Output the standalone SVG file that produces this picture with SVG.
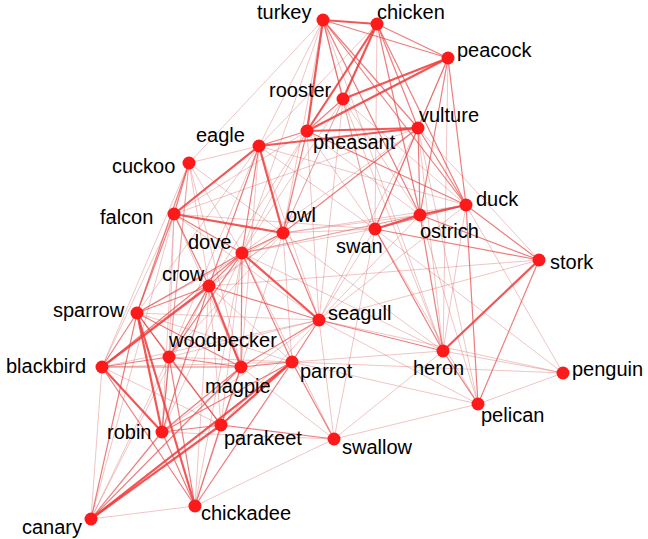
<svg xmlns="http://www.w3.org/2000/svg" width="648" height="539" viewBox="0 0 648 539">
<style>
.s{stroke:#ee3a3a;stroke-width:2.2;stroke-opacity:.85}
.m{stroke:#e64545;stroke-width:1.2;stroke-opacity:.7}
.f{stroke:#d45a5a;stroke-width:.8;stroke-opacity:.45}
.n circle{fill:#fe1a1a}
.n text{font-family:"Liberation Sans",Arial,sans-serif;font-size:20px;fill:#000}
</style>
<rect width="648" height="539" fill="#fff"/>
<g id="edges" fill="none">
<line class="s" x1="323" y1="20" x2="377" y2="24"/>
<line class="m" x1="323" y1="20" x2="448" y2="58"/>
<line class="s" x1="323" y1="20" x2="307" y2="131"/>
<line class="m" x1="323" y1="20" x2="343" y2="99"/>
<line class="m" x1="323" y1="20" x2="418" y2="128"/>
<line class="m" x1="323" y1="20" x2="420" y2="215"/>
<line class="m" x1="323" y1="20" x2="466" y2="205"/>
<line class="f" x1="323" y1="20" x2="375" y2="229"/>
<line class="f" x1="323" y1="20" x2="283" y2="233"/>
<line class="f" x1="323" y1="20" x2="242" y2="253"/>
<line class="f" x1="323" y1="20" x2="189" y2="163"/>
<line class="f" x1="323" y1="20" x2="259" y2="146"/>
<line class="f" x1="323" y1="20" x2="443" y2="351"/>
<line class="s" x1="377" y1="24" x2="343" y2="99"/>
<line class="s" x1="377" y1="24" x2="307" y2="131"/>
<line class="m" x1="377" y1="24" x2="448" y2="58"/>
<line class="m" x1="377" y1="24" x2="418" y2="128"/>
<line class="m" x1="377" y1="24" x2="466" y2="205"/>
<line class="m" x1="377" y1="24" x2="420" y2="215"/>
<line class="f" x1="377" y1="24" x2="375" y2="229"/>
<line class="f" x1="377" y1="24" x2="259" y2="146"/>
<line class="f" x1="377" y1="24" x2="283" y2="233"/>
<line class="s" x1="448" y1="58" x2="343" y2="99"/>
<line class="s" x1="448" y1="58" x2="307" y2="131"/>
<line class="m" x1="448" y1="58" x2="418" y2="128"/>
<line class="m" x1="448" y1="58" x2="466" y2="205"/>
<line class="m" x1="448" y1="58" x2="420" y2="215"/>
<line class="f" x1="448" y1="58" x2="375" y2="229"/>
<line class="f" x1="448" y1="58" x2="443" y2="351"/>
<line class="m" x1="343" y1="99" x2="307" y2="131"/>
<line class="f" x1="343" y1="99" x2="420" y2="215"/>
<line class="f" x1="343" y1="99" x2="466" y2="205"/>
<line class="f" x1="343" y1="99" x2="375" y2="229"/>
<line class="f" x1="343" y1="99" x2="283" y2="233"/>
<line class="f" x1="343" y1="99" x2="242" y2="253"/>
<line class="f" x1="343" y1="99" x2="319" y2="320"/>
<line class="f" x1="343" y1="99" x2="443" y2="351"/>
<line class="s" x1="307" y1="131" x2="418" y2="128"/>
<line class="m" x1="307" y1="131" x2="259" y2="146"/>
<line class="m" x1="307" y1="131" x2="283" y2="233"/>
<line class="f" x1="307" y1="131" x2="242" y2="253"/>
<line class="f" x1="307" y1="131" x2="174" y2="214"/>
<line class="f" x1="307" y1="131" x2="375" y2="229"/>
<line class="f" x1="307" y1="131" x2="420" y2="215"/>
<line class="m" x1="307" y1="131" x2="466" y2="205"/>
<line class="f" x1="307" y1="131" x2="209" y2="286"/>
<line class="f" x1="307" y1="131" x2="319" y2="320"/>
<line class="s" x1="418" y1="128" x2="259" y2="146"/>
<line class="m" x1="418" y1="128" x2="466" y2="205"/>
<line class="m" x1="418" y1="128" x2="420" y2="215"/>
<line class="m" x1="418" y1="128" x2="375" y2="229"/>
<line class="m" x1="418" y1="128" x2="283" y2="233"/>
<line class="f" x1="418" y1="128" x2="443" y2="351"/>
<line class="f" x1="418" y1="128" x2="539" y2="260"/>
<line class="f" x1="418" y1="128" x2="319" y2="320"/>
<line class="f" x1="418" y1="128" x2="478" y2="404"/>
<line class="f" x1="418" y1="128" x2="174" y2="214"/>
<line class="f" x1="418" y1="128" x2="242" y2="253"/>
<line class="s" x1="259" y1="146" x2="174" y2="214"/>
<line class="f" x1="259" y1="146" x2="189" y2="163"/>
<line class="s" x1="259" y1="146" x2="283" y2="233"/>
<line class="m" x1="259" y1="146" x2="242" y2="253"/>
<line class="m" x1="259" y1="146" x2="209" y2="286"/>
<line class="f" x1="259" y1="146" x2="137" y2="313"/>
<line class="f" x1="259" y1="146" x2="319" y2="320"/>
<line class="f" x1="259" y1="146" x2="375" y2="229"/>
<line class="f" x1="259" y1="146" x2="466" y2="205"/>
<line class="f" x1="259" y1="146" x2="169" y2="357"/>
<line class="f" x1="259" y1="146" x2="241" y2="367"/>
<line class="m" x1="189" y1="163" x2="174" y2="214"/>
<line class="m" x1="189" y1="163" x2="137" y2="313"/>
<line class="f" x1="189" y1="163" x2="209" y2="286"/>
<line class="f" x1="189" y1="163" x2="242" y2="253"/>
<line class="f" x1="189" y1="163" x2="169" y2="357"/>
<line class="f" x1="189" y1="163" x2="102" y2="367"/>
<line class="f" x1="189" y1="163" x2="162" y2="432"/>
<line class="f" x1="189" y1="163" x2="283" y2="233"/>
<line class="f" x1="189" y1="163" x2="241" y2="367"/>
<line class="s" x1="174" y1="214" x2="283" y2="233"/>
<line class="m" x1="174" y1="214" x2="137" y2="313"/>
<line class="f" x1="174" y1="214" x2="102" y2="367"/>
<line class="m" x1="174" y1="214" x2="209" y2="286"/>
<line class="m" x1="174" y1="214" x2="242" y2="253"/>
<line class="f" x1="174" y1="214" x2="241" y2="367"/>
<line class="f" x1="174" y1="214" x2="162" y2="432"/>
<line class="f" x1="174" y1="214" x2="169" y2="357"/>
<line class="f" x1="174" y1="214" x2="319" y2="320"/>
<line class="f" x1="174" y1="214" x2="375" y2="229"/>
<line class="f" x1="174" y1="214" x2="91" y2="519"/>
<line class="m" x1="283" y1="233" x2="242" y2="253"/>
<line class="f" x1="283" y1="233" x2="209" y2="286"/>
<line class="f" x1="283" y1="233" x2="375" y2="229"/>
<line class="m" x1="283" y1="233" x2="319" y2="320"/>
<line class="f" x1="283" y1="233" x2="137" y2="313"/>
<line class="f" x1="283" y1="233" x2="169" y2="357"/>
<line class="f" x1="283" y1="233" x2="241" y2="367"/>
<line class="f" x1="283" y1="233" x2="292" y2="362"/>
<line class="f" x1="283" y1="233" x2="420" y2="215"/>
<line class="f" x1="283" y1="233" x2="102" y2="367"/>
<line class="f" x1="283" y1="233" x2="443" y2="351"/>
<line class="m" x1="242" y1="253" x2="209" y2="286"/>
<line class="s" x1="242" y1="253" x2="319" y2="320"/>
<line class="m" x1="242" y1="253" x2="137" y2="313"/>
<line class="m" x1="242" y1="253" x2="102" y2="367"/>
<line class="m" x1="242" y1="253" x2="169" y2="357"/>
<line class="m" x1="242" y1="253" x2="241" y2="367"/>
<line class="m" x1="242" y1="253" x2="292" y2="362"/>
<line class="f" x1="242" y1="253" x2="162" y2="432"/>
<line class="f" x1="242" y1="253" x2="221" y2="425"/>
<line class="f" x1="242" y1="253" x2="375" y2="229"/>
<line class="f" x1="242" y1="253" x2="195" y2="506"/>
<line class="f" x1="242" y1="253" x2="420" y2="215"/>
<line class="f" x1="242" y1="253" x2="466" y2="205"/>
<line class="f" x1="242" y1="253" x2="443" y2="351"/>
<line class="f" x1="242" y1="253" x2="334" y2="439"/>
<line class="s" x1="209" y1="286" x2="241" y2="367"/>
<line class="m" x1="209" y1="286" x2="137" y2="313"/>
<line class="s" x1="209" y1="286" x2="102" y2="367"/>
<line class="m" x1="209" y1="286" x2="169" y2="357"/>
<line class="m" x1="209" y1="286" x2="162" y2="432"/>
<line class="f" x1="209" y1="286" x2="221" y2="425"/>
<line class="m" x1="209" y1="286" x2="319" y2="320"/>
<line class="f" x1="209" y1="286" x2="195" y2="506"/>
<line class="f" x1="209" y1="286" x2="292" y2="362"/>
<line class="f" x1="209" y1="286" x2="539" y2="260"/>
<line class="f" x1="209" y1="286" x2="91" y2="519"/>
<line class="s" x1="137" y1="313" x2="162" y2="432"/>
<line class="m" x1="137" y1="313" x2="102" y2="367"/>
<line class="s" x1="137" y1="313" x2="195" y2="506"/>
<line class="m" x1="137" y1="313" x2="169" y2="357"/>
<line class="m" x1="137" y1="313" x2="241" y2="367"/>
<line class="m" x1="137" y1="313" x2="221" y2="425"/>
<line class="m" x1="137" y1="313" x2="91" y2="519"/>
<line class="f" x1="137" y1="313" x2="319" y2="320"/>
<line class="f" x1="137" y1="313" x2="292" y2="362"/>
<line class="m" x1="319" y1="320" x2="443" y2="351"/>
<line class="f" x1="319" y1="320" x2="375" y2="229"/>
<line class="f" x1="319" y1="320" x2="478" y2="404"/>
<line class="m" x1="319" y1="320" x2="292" y2="362"/>
<line class="m" x1="319" y1="320" x2="241" y2="367"/>
<line class="f" x1="319" y1="320" x2="169" y2="357"/>
<line class="f" x1="319" y1="320" x2="102" y2="367"/>
<line class="f" x1="319" y1="320" x2="539" y2="260"/>
<line class="f" x1="319" y1="320" x2="334" y2="439"/>
<line class="f" x1="319" y1="320" x2="466" y2="205"/>
<line class="f" x1="319" y1="320" x2="563" y2="373"/>
<line class="f" x1="319" y1="320" x2="420" y2="215"/>
<line class="f" x1="319" y1="320" x2="162" y2="432"/>
<line class="f" x1="319" y1="320" x2="221" y2="425"/>
<line class="m" x1="169" y1="357" x2="102" y2="367"/>
<line class="m" x1="169" y1="357" x2="241" y2="367"/>
<line class="m" x1="169" y1="357" x2="162" y2="432"/>
<line class="m" x1="169" y1="357" x2="221" y2="425"/>
<line class="f" x1="169" y1="357" x2="292" y2="362"/>
<line class="m" x1="169" y1="357" x2="195" y2="506"/>
<line class="f" x1="169" y1="357" x2="91" y2="519"/>
<line class="m" x1="241" y1="367" x2="102" y2="367"/>
<line class="m" x1="241" y1="367" x2="162" y2="432"/>
<line class="m" x1="241" y1="367" x2="221" y2="425"/>
<line class="m" x1="241" y1="367" x2="292" y2="362"/>
<line class="f" x1="241" y1="367" x2="195" y2="506"/>
<line class="f" x1="241" y1="367" x2="334" y2="439"/>
<line class="m" x1="241" y1="367" x2="91" y2="519"/>
<line class="s" x1="292" y1="362" x2="221" y2="425"/>
<line class="s" x1="292" y1="362" x2="91" y2="519"/>
<line class="m" x1="292" y1="362" x2="162" y2="432"/>
<line class="m" x1="292" y1="362" x2="334" y2="439"/>
<line class="f" x1="292" y1="362" x2="443" y2="351"/>
<line class="f" x1="292" y1="362" x2="478" y2="404"/>
<line class="f" x1="292" y1="362" x2="102" y2="367"/>
<line class="m" x1="292" y1="362" x2="195" y2="506"/>
<line class="f" x1="292" y1="362" x2="563" y2="373"/>
<line class="s" x1="443" y1="351" x2="539" y2="260"/>
<line class="m" x1="443" y1="351" x2="478" y2="404"/>
<line class="m" x1="443" y1="351" x2="375" y2="229"/>
<line class="m" x1="443" y1="351" x2="420" y2="215"/>
<line class="f" x1="443" y1="351" x2="466" y2="205"/>
<line class="f" x1="443" y1="351" x2="563" y2="373"/>
<line class="f" x1="443" y1="351" x2="334" y2="439"/>
<line class="s" x1="102" y1="367" x2="162" y2="432"/>
<line class="m" x1="102" y1="367" x2="195" y2="506"/>
<line class="f" x1="102" y1="367" x2="91" y2="519"/>
<line class="f" x1="102" y1="367" x2="221" y2="425"/>
<line class="f" x1="563" y1="373" x2="478" y2="404"/>
<line class="f" x1="563" y1="373" x2="466" y2="205"/>
<line class="m" x1="478" y1="404" x2="539" y2="260"/>
<line class="m" x1="478" y1="404" x2="466" y2="205"/>
<line class="f" x1="478" y1="404" x2="375" y2="229"/>
<line class="f" x1="478" y1="404" x2="334" y2="439"/>
<line class="f" x1="478" y1="404" x2="420" y2="215"/>
<line class="m" x1="162" y1="432" x2="221" y2="425"/>
<line class="m" x1="162" y1="432" x2="195" y2="506"/>
<line class="m" x1="162" y1="432" x2="91" y2="519"/>
<line class="f" x1="162" y1="432" x2="334" y2="439"/>
<line class="s" x1="221" y1="425" x2="91" y2="519"/>
<line class="m" x1="221" y1="425" x2="195" y2="506"/>
<line class="m" x1="221" y1="425" x2="334" y2="439"/>
<line class="f" x1="334" y1="439" x2="195" y2="506"/>
<line class="f" x1="195" y1="506" x2="91" y2="519"/>
<line class="s" x1="466" y1="205" x2="420" y2="215"/>
<line class="m" x1="466" y1="205" x2="375" y2="229"/>
<line class="m" x1="466" y1="205" x2="539" y2="260"/>
<line class="f" x1="466" y1="205" x2="283" y2="233"/>
<line class="s" x1="420" y1="215" x2="375" y2="229"/>
<line class="m" x1="420" y1="215" x2="539" y2="260"/>
<line class="m" x1="375" y1="229" x2="539" y2="260"/>
<line class="f" x1="375" y1="229" x2="334" y2="439"/>
<line class="f" x1="375" y1="229" x2="563" y2="373"/>
</g>
<g id="turkey" class="n"><circle cx="323" cy="20" r="6.5"/><text x="257" y="18.5">turkey</text></g>
<g id="chicken" class="n"><circle cx="377" cy="24" r="6.5"/><text x="377" y="18.5">chicken</text></g>
<g id="peacock" class="n"><circle cx="448" cy="58" r="6.5"/><text x="457" y="57">peacock</text></g>
<g id="rooster" class="n"><circle cx="343" cy="99" r="6.5"/><text x="269" y="97">rooster</text></g>
<g id="vulture" class="n"><circle cx="418" cy="128" r="6.5"/><text x="419" y="122">vulture</text></g>
<g id="pheasant" class="n"><circle cx="307" cy="131" r="6.5"/><text x="313" y="149">pheasant</text></g>
<g id="eagle" class="n"><circle cx="259" cy="146" r="6.5"/><text x="196" y="142">eagle</text></g>
<g id="cuckoo" class="n"><circle cx="189" cy="163" r="6.5"/><text x="112" y="173">cuckoo</text></g>
<g id="falcon" class="n"><circle cx="174" cy="214" r="6.5"/><text x="100" y="224">falcon</text></g>
<g id="owl" class="n"><circle cx="283" cy="233" r="6.5"/><text x="286" y="222">owl</text></g>
<g id="dove" class="n"><circle cx="242" cy="253" r="6.5"/><text x="188" y="248.5">dove</text></g>
<g id="duck" class="n"><circle cx="466" cy="205" r="6.5"/><text x="476" y="205.5">duck</text></g>
<g id="ostrich" class="n"><circle cx="420" cy="215" r="6.5"/><text x="420" y="237.5">ostrich</text></g>
<g id="swan" class="n"><circle cx="375" cy="229" r="6.5"/><text x="336" y="253">swan</text></g>
<g id="stork" class="n"><circle cx="539" cy="260" r="6.5"/><text x="550" y="268.5">stork</text></g>
<g id="crow" class="n"><circle cx="209" cy="286" r="6.5"/><text x="162" y="281">crow</text></g>
<g id="sparrow" class="n"><circle cx="137" cy="313" r="6.5"/><text x="53" y="317">sparrow</text></g>
<g id="seagull" class="n"><circle cx="319" cy="320" r="6.5"/><text x="328" y="319.5">seagull</text></g>
<g id="woodpecker" class="n"><circle cx="169" cy="357" r="6.5"/><text x="169" y="346.5">woodpecker</text></g>
<g id="magpie" class="n"><circle cx="241" cy="367" r="6.5"/><text x="205" y="392.5">magpie</text></g>
<g id="parrot" class="n"><circle cx="292" cy="362" r="6.5"/><text x="300" y="378">parrot</text></g>
<g id="heron" class="n"><circle cx="443" cy="351" r="6.5"/><text x="413" y="375">heron</text></g>
<g id="blackbird" class="n"><circle cx="102" cy="367" r="6.5"/><text x="6" y="372.5">blackbird</text></g>
<g id="penguin" class="n"><circle cx="563" cy="373" r="6.5"/><text x="572" y="376">penguin</text></g>
<g id="pelican" class="n"><circle cx="478" cy="404" r="6.5"/><text x="481" y="422">pelican</text></g>
<g id="robin" class="n"><circle cx="162" cy="432" r="6.5"/><text x="107" y="439">robin</text></g>
<g id="parakeet" class="n"><circle cx="221" cy="425" r="6.5"/><text x="224" y="445">parakeet</text></g>
<g id="swallow" class="n"><circle cx="334" cy="439" r="6.5"/><text x="342" y="453.5">swallow</text></g>
<g id="chickadee" class="n"><circle cx="195" cy="506" r="6.5"/><text x="201" y="520">chickadee</text></g>
<g id="canary" class="n"><circle cx="91" cy="519" r="6.5"/><text x="22" y="534">canary</text></g>
</svg>
